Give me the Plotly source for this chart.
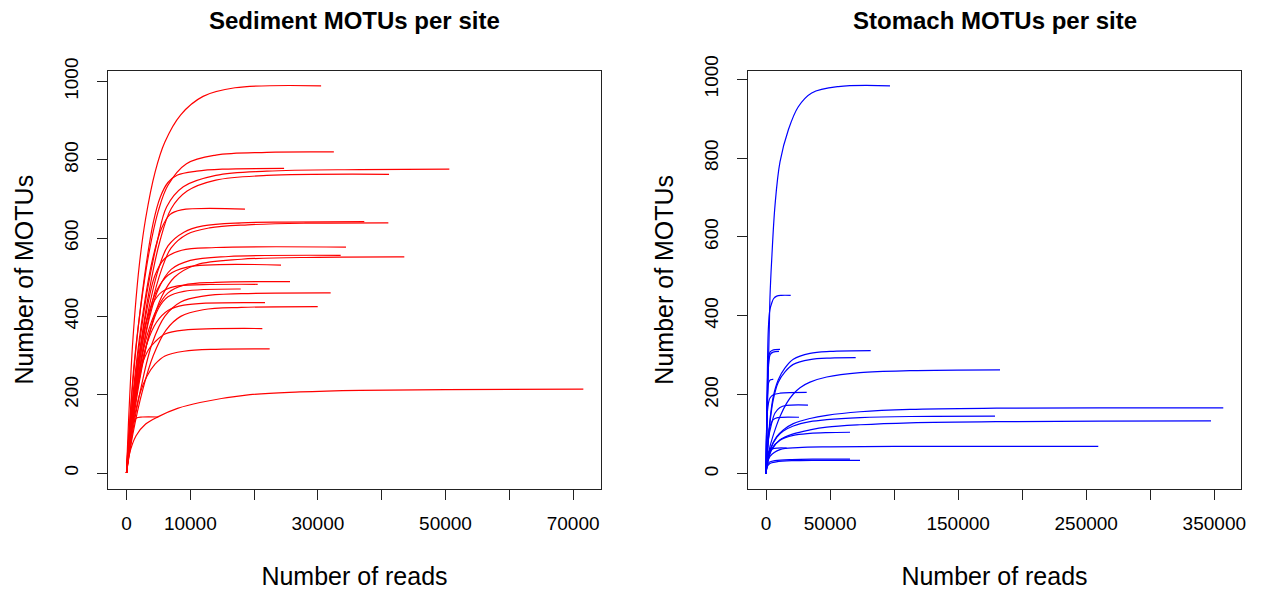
import plotly.graph_objects as go

# ---------------- Sediment rarefaction curves (reads, MOTUs) ----------------
sed_01_x = [0, 400, 1000, 2000, 3000, 4500, 6000, 8500, 12000, 17000, 30500]
sed_01_y = [0, 160, 340, 530, 650, 770, 845, 915, 962, 984, 989]
sed_02_x = [0, 500, 1200, 2200, 3500, 5000, 6500, 9400, 14000, 22000, 32500]
sed_02_y = [0, 130, 280, 420, 560, 670, 735, 790, 812, 819, 820]
sed_03_x = [0, 600, 1500, 2800, 4200, 5300, 6500, 8000, 11000, 15000, 24700]
sed_03_y = [0, 150, 320, 500, 640, 705, 742, 761, 771, 776, 778]
sed_04_x = [0, 700, 1800, 3200, 4800, 6300, 8900, 14000, 22000, 36600, 50600]
sed_04_y = [0, 140, 300, 460, 590, 680, 731, 760, 771, 775, 776]
sed_05_x = [0, 800, 2000, 3500, 5200, 7000, 9500, 14000, 22000, 41150]
sed_05_y = [0, 140, 300, 460, 590, 675, 720, 748, 760, 763]
sed_06_x = [0, 500, 1200, 2500, 4000, 5500, 6800, 8600, 18570]
sed_06_y = [0, 110, 230, 400, 540, 625, 660, 672, 674]
sed_07_x = [0, 800, 2000, 3500, 5000, 6500, 9000, 12000, 18000, 25000, 37270]
sed_07_y = [0, 130, 280, 420, 520, 580, 615, 631, 639, 641, 642]
sed_08_x = [0, 900, 2200, 3800, 5500, 7000, 9500, 13000, 19000, 28000, 41040]
sed_08_y = [0, 130, 280, 420, 520, 575, 610, 626, 634, 638, 639]
sed_09_x = [0, 700, 1700, 3000, 4470, 6000, 8650, 14000, 34400]
sed_09_y = [0, 120, 260, 400, 505, 548, 569, 576, 577]
sed_10_x = [0, 800, 2000, 3500, 5000, 7000, 10000, 16000, 33570]
sed_10_y = [0, 120, 260, 390, 470, 520, 543, 553, 556]
sed_11_x = [0, 900, 2200, 3800, 5500, 7500, 11000, 18000, 30000, 43540]
sed_11_y = [0, 115, 250, 370, 450, 500, 532, 546, 551, 552]
sed_12_x = [0, 700, 1800, 3200, 4700, 6500, 9500, 24220]
sed_12_y = [0, 120, 260, 390, 465, 505, 526, 531]
sed_13_x = [0, 700, 1800, 3200, 4800, 6500, 9000, 14000, 25630]
sed_13_y = [0, 110, 240, 350, 420, 460, 480, 487, 489]
sed_14_x = [0, 600, 1500, 2800, 4200, 5500, 7500, 12000, 20560]
sed_14_y = [0, 120, 250, 370, 435, 462, 476, 481, 482]
sed_15_x = [0, 800, 2000, 3500, 5000, 6500, 9000, 17900]
sed_15_y = [0, 110, 240, 350, 420, 450, 464, 470]
sed_16_x = [0, 900, 2300, 4000, 6000, 8500, 12000, 18000, 32000]
sed_16_y = [0, 100, 220, 330, 400, 437, 452, 458, 460]
sed_17_x = [0, 700, 1800, 3200, 4700, 6500, 9000, 21710]
sed_17_y = [0, 110, 230, 330, 385, 415, 429, 435]
sed_18_x = [0, 1000, 2500, 4200, 6200, 8500, 12000, 18000, 29970]
sed_18_y = [0, 100, 210, 300, 365, 400, 417, 423, 425]
sed_19_x = [0, 500, 1300, 2300, 3420, 4470, 6030, 9000, 21290]
sed_19_y = [0, 100, 200, 270, 314, 335, 355, 365, 369]
sed_20_x = [0, 500, 1200, 2120, 3160, 4470, 6030, 9000, 14000, 22440]
sed_20_y = [0, 70, 140, 204, 246, 278, 299, 311, 316, 317]
sed_21_x = [0, 400, 1500, 3000, 4990, 8000, 11520, 19360, 27190, 36600, 50000, 71600]
sed_21_y = [0, 45, 95, 125, 144, 165, 180, 200, 207, 211, 213, 214]
sed_22_x = [0, 200, 500, 900, 1500, 2500, 4980]
sed_22_y = [0, 60, 100, 125, 140, 143, 143]

# ---------------- Stomach rarefaction curves (reads, MOTUs) ----------------
sto_01_x = [0, 1500, 2580, 3120, 4450, 7030, 10930, 17410, 25220, 35680, 56450, 96800]
sto_01_y = [0, 220, 373, 449, 542, 680, 790, 871, 930, 965, 981, 983]
sto_02_x = [0, 800, 1800, 3000, 4450, 6000, 8350, 12000, 19280]
sto_02_y = [0, 190, 365, 415, 432, 444, 450, 452, 452]
sto_03_x = [0, 600, 1300, 2000, 3100, 5000, 10930]
sto_03_y = [0, 150, 250, 290, 308, 313, 315]
sto_04_x = [0, 700, 1500, 2300, 3300, 5500, 10150]
sto_04_y = [0, 140, 240, 285, 302, 308, 310]
sto_05_x = [0, 1200, 3120, 5700, 9600, 14830, 21310, 34350, 50000, 81740]
sto_05_y = [0, 60, 137, 196, 238, 268, 290, 305, 310, 312]
sto_06_x = [0, 1200, 3120, 5700, 9600, 14830, 21310, 34350, 50000, 70030]
sto_06_y = [0, 55, 130, 188, 232, 258, 277, 289, 293, 294]
sto_07_x = [0, 1200, 3120, 7030, 10930, 16160, 21310, 26540, 34350, 47400, 73400, 112400, 182700]
sto_07_y = [0, 35, 69, 111, 145, 179, 202, 218, 232, 245, 256, 261, 263]
sto_08_x = [0, 400, 1020, 2000, 3120, 5700, 10930, 31770]
sto_08_y = [0, 90, 154, 180, 192, 200, 204, 206]
sto_09_x = [0, 800, 1800, 4450, 7030, 10930, 16000, 32790]
sto_09_y = [0, 45, 86, 128, 154, 168, 173, 174]
sto_10_x = [0, 500, 1020, 3120, 5700, 9000, 25760]
sto_10_y = [0, 50, 86, 120, 137, 142, 143]
sto_11_x = [0, 500, 1200, 2200, 3500, 5700]
sto_11_y = [0, 120, 200, 232, 238, 239]
sto_12_x = [0, 1200, 3120, 8350, 13510, 21310, 34350, 47400, 73400, 112400, 180000, 260000, 357000]
sto_12_y = [0, 35, 61, 94, 111, 127, 140, 148, 157, 163, 166, 167, 167]
sto_13_x = [0, 1500, 4450, 10930, 21310, 34350, 47400, 73400, 112400, 180000, 260000, 347400]
sto_13_y = [0, 30, 61, 86, 101, 111, 118, 124, 129, 132, 133, 134]
sto_14_x = [0, 1200, 3500, 8350, 13510, 21310, 34350, 47400, 73400, 112400, 178800]
sto_14_y = [0, 33, 62, 92, 108, 121, 132, 137, 142, 145, 146]
sto_15_x = [0, 800, 3120, 10930, 25000, 50000, 100000, 259400]
sto_15_y = [0, 25, 44, 61, 66, 68, 69, 69]
sto_16_x = [0, 1500, 4450, 10930, 21310, 34350, 47400, 65580]
sto_16_y = [0, 35, 63, 85, 97, 102, 104, 105]
sto_17_x = [0, 1000, 3000, 8000, 20000, 40000, 73390]
sto_17_y = [0, 18, 26, 30, 33, 34, 34]
sto_18_x = [0, 800, 2500, 7000, 20000, 40000, 65580]
sto_18_y = [0, 20, 29, 33, 36, 37, 37]
sto_19_x = [0, 500, 1200, 2500, 5000, 9000, 16160]
sto_19_y = [0, 30, 48, 58, 63, 65, 65]

sediment_curves = [
    (sed_01_x, sed_01_y), (sed_02_x, sed_02_y), (sed_03_x, sed_03_y), (sed_04_x, sed_04_y),
    (sed_05_x, sed_05_y), (sed_06_x, sed_06_y), (sed_07_x, sed_07_y), (sed_08_x, sed_08_y),
    (sed_09_x, sed_09_y), (sed_10_x, sed_10_y), (sed_11_x, sed_11_y), (sed_12_x, sed_12_y),
    (sed_13_x, sed_13_y), (sed_14_x, sed_14_y), (sed_15_x, sed_15_y), (sed_16_x, sed_16_y),
    (sed_17_x, sed_17_y), (sed_18_x, sed_18_y), (sed_19_x, sed_19_y), (sed_20_x, sed_20_y),
    (sed_21_x, sed_21_y), (sed_22_x, sed_22_y),
]
stomach_curves = [
    (sto_01_x, sto_01_y), (sto_02_x, sto_02_y), (sto_03_x, sto_03_y), (sto_04_x, sto_04_y),
    (sto_05_x, sto_05_y), (sto_06_x, sto_06_y), (sto_07_x, sto_07_y), (sto_08_x, sto_08_y),
    (sto_09_x, sto_09_y), (sto_10_x, sto_10_y), (sto_11_x, sto_11_y), (sto_12_x, sto_12_y),
    (sto_13_x, sto_13_y), (sto_14_x, sto_14_y), (sto_15_x, sto_15_y), (sto_16_x, sto_16_y),
    (sto_17_x, sto_17_y), (sto_18_x, sto_18_y), (sto_19_x, sto_19_y),
]

# Tick labels
y_ticks = [0, 200, 400, 600, 800, 1000]
sed_x_ticks = [0, 10000, 20000, 30000, 40000, 50000, 60000, 70000]
sed_x_labels = ["0", "10000", "", "30000", "", "50000", "", "70000"]
sto_x_ticks = [0, 50000, 100000, 150000, 200000, 250000, 300000, 350000]
sto_x_labels = ["0", "50000", "", "150000", "", "250000", "", "350000"]

titles = ["Sediment MOTUs per site", "Stomach MOTUs per site"]
x_title = "Number of reads"
y_title = "Number of MOTUs"

W, H = 1261, 590
FONT = "Liberation Sans, Arial, Helvetica, sans-serif"

fig = go.Figure()
for xs, ys in sediment_curves:
    fig.add_trace(go.Scatter(x=xs, y=ys, mode="lines", xaxis="x", yaxis="y",
                             line=dict(color="#FF0000", width=1.2, shape="spline", smoothing=1.0),
                             showlegend=False, hoverinfo="skip"))
for xs, ys in stomach_curves:
    fig.add_trace(go.Scatter(x=xs, y=ys, mode="lines", xaxis="x2", yaxis="y2",
                             line=dict(color="#0000FF", width=1.2, shape="spline", smoothing=1.0),
                             showlegend=False, hoverinfo="skip"))


def fx(p):
    return p / W


def fy(p):
    return 1 - p / H


top_px, bot_px = 71, 488.5
axis_common = dict(showgrid=False, zeroline=False, showline=True, mirror=True,
                   automargin=False,
                   linecolor="#222222", linewidth=1, ticks="outside", ticklen=10,
                   tickcolor="#222222", tickwidth=1,
                   tickfont=dict(family=FONT, size=19, color="#000000"),
                   title_font=dict(family=FONT, size=25, color="#000000"))

fig.update_layout(
    width=W, height=H,
    margin=dict(l=0, r=0, t=0, b=0, autoexpand=False),
    paper_bgcolor="white", plot_bgcolor="white",
    font=dict(family=FONT, color="#000000"),
    xaxis=dict(domain=[fx(108), fx(601)], range=[-2900, 74370], anchor="y",
               tickvals=sed_x_ticks, ticktext=sed_x_labels, tickangle=0,
               ticklabelstandoff=8,
               title=dict(text=x_title, standoff=34), **axis_common),
    yaxis=dict(domain=[fy(bot_px), fy(top_px)], range=[-39.6, 1026.8], anchor="x",
               tickvals=y_ticks, tickangle=-90, ticklabelstandoff=11,
               title=dict(text=y_title, standoff=20), **axis_common),
    xaxis2=dict(domain=[fx(748), fx(1241)], range=[-14053, 370833], anchor="y2",
                tickvals=sto_x_ticks, ticktext=sto_x_labels, tickangle=0,
                ticklabelstandoff=8,
                title=dict(text=x_title, standoff=34), **axis_common),
    yaxis2=dict(domain=[fy(bot_px), fy(top_px)], range=[-37.5, 1020.5], anchor="x2",
                tickvals=y_ticks, tickangle=-90, ticklabelstandoff=11,
                title=dict(text=y_title, standoff=20), **axis_common),
    annotations=[
        dict(text="<b>" + titles[0] + "</b>", x=fx(354.5), y=fy(21), xref="paper", yref="paper",
             xanchor="center", yanchor="middle", showarrow=False,
             font=dict(family=FONT, size=24, color="#000000")),
        dict(text="<b>" + titles[1] + "</b>", x=fx(994.5), y=fy(21), xref="paper", yref="paper",
             xanchor="center", yanchor="middle", showarrow=False,
             font=dict(family=FONT, size=24, color="#000000")),
    ],
)

fig.write_html("out.html",
               config={"displayModeBar": False, "staticPlot": True},
               post_script="document.body.style.margin='0';document.body.style.overflow='hidden';")
